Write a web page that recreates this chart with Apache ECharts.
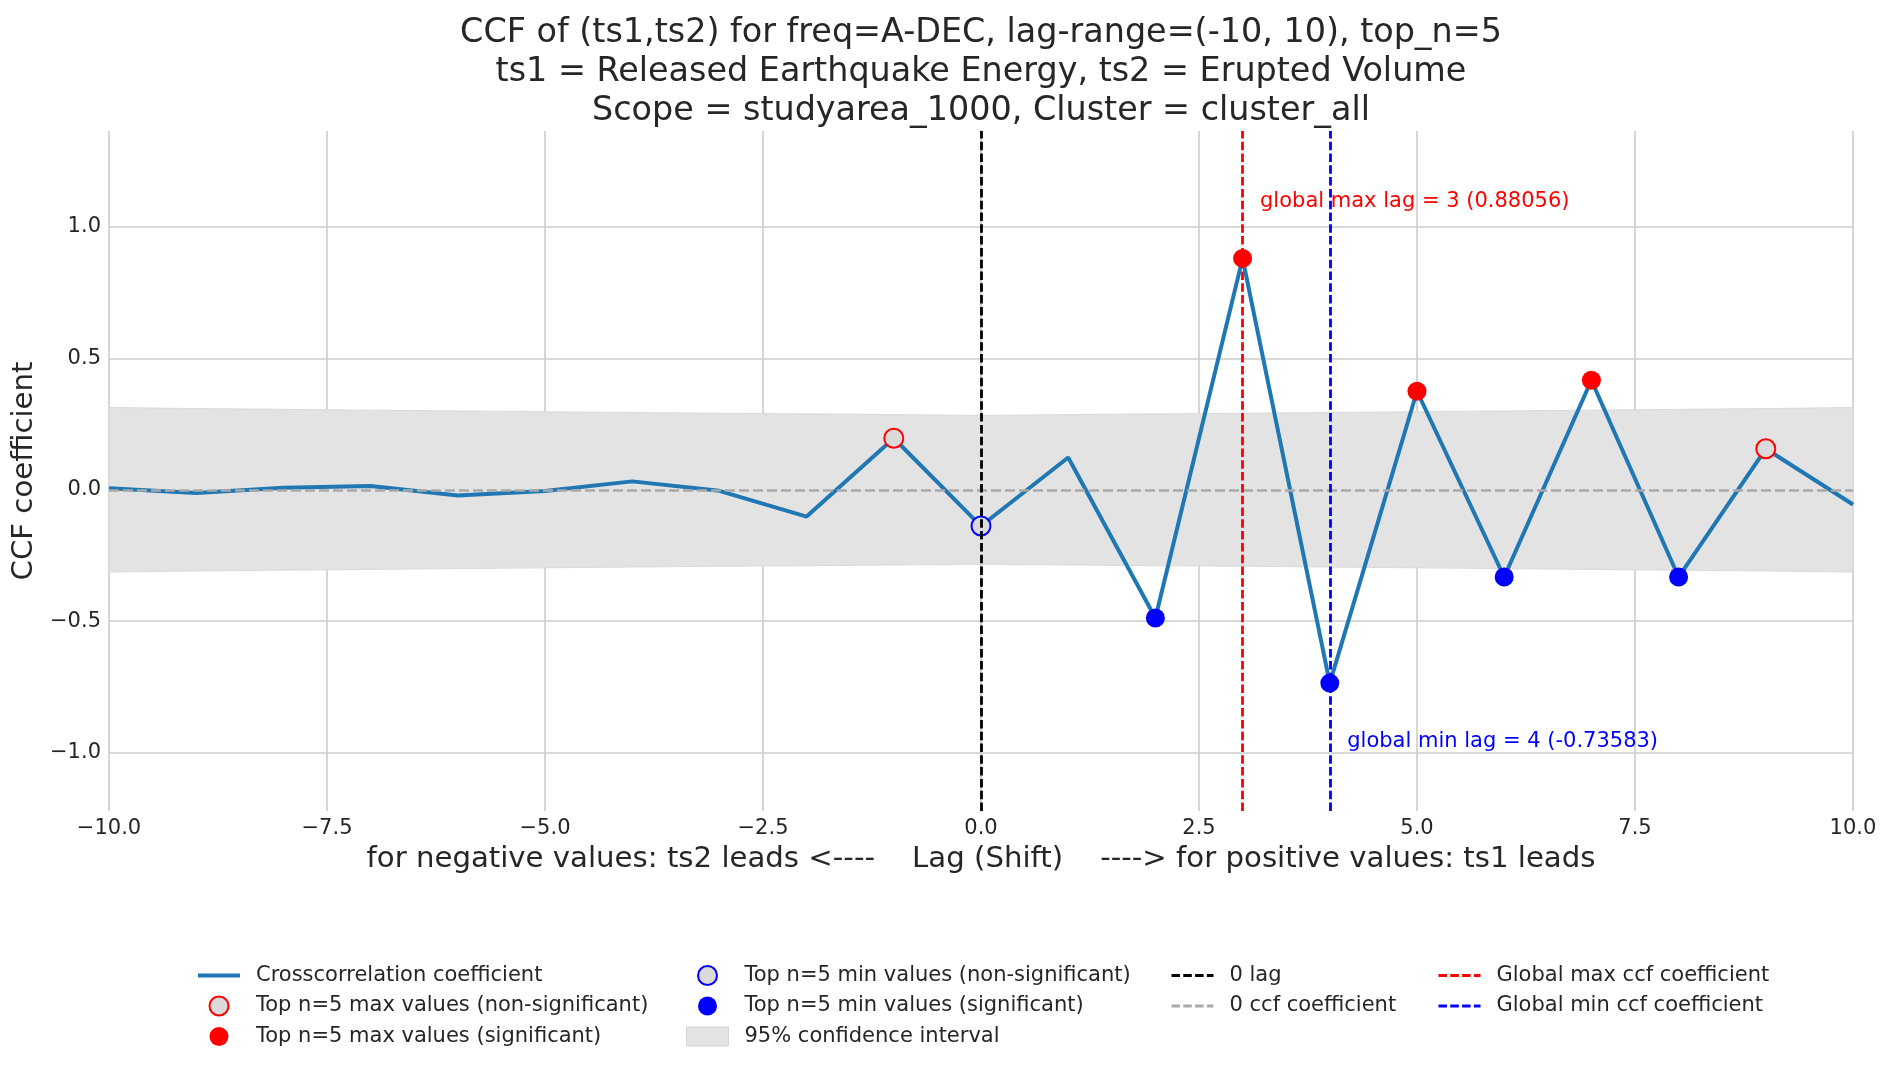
<!DOCTYPE html>
<html>
<head>
<meta charset="utf-8">
<script src="https://cdn.jsdelivr.net/npm/echarts@6/dist/echarts.min.js"></script>
<style>
  html, body { margin: 0; padding: 0; background: #fff; }
  #chart { width: 1891px; height: 1069px; }
</style>
</head>
<body>
<div id="chart"></div>
<script>
// lags and ccf values
const lags = [-10, -9, -8, -7, -6, -5, -4, -3, -2, -1, 0, 1, 2, 3, 4, 5, 6, 7, 8, 9, 10];
const ccf = [0.006, -0.012, 0.008, 0.014, -0.022, -0.005, 0.032, -0.004, -0.102, 0.196,
             -0.138, 0.123, -0.488, 0.88056, -0.73583, 0.375, -0.332, 0.417, -0.332, 0.156, -0.056];
// 95% confidence band
const ciUpper = [0.313, 0.309, 0.306, 0.303, 0.300, 0.297, 0.294, 0.291, 0.289, 0.286, 0.283,
                 0.286, 0.289, 0.291, 0.294, 0.297, 0.300, 0.303, 0.306, 0.309, 0.313];
const ciLower = [-0.313, -0.309, -0.306, -0.303, -0.300, -0.297, -0.294, -0.291, -0.289, -0.286, -0.283,
                 -0.286, -0.289, -0.291, -0.294, -0.297, -0.300, -0.303, -0.306, -0.309, -0.313];

// top n=5 picks
const maxSigLags = [3, 5, 7];
const maxNonSigLags = [-1, 9];
const minSigLags = [2, 4, 6, 8];
const minNonSigLags = [0];

const globalMaxLag = 3, globalMaxVal = 0.88056;
const globalMinLag = 4, globalMinVal = -0.73583;

const titleLines = [
  'CCF of (ts1,ts2) for freq=A-DEC, lag-range=(-10, 10), top_n=5',
  'ts1 = Released Earthquake Energy, ts2 = Erupted Volume',
  'Scope = studyarea_1000, Cluster = cluster_all'
];

const FONT = 'DejaVu Sans';
const TXT = '#262626';

function pts(lagList) {
  return lagList.map(l => [l, ccf[lags.indexOf(l)]]);
}
function fmt(v) {
  return v.toFixed(1).replace('-', '\u2212');
}

let chart = echarts.init(document.getElementById('chart'), null, { renderer: 'canvas' });

const dash = [8.5, 3.3];

function lineItem(name, color, width, type) {
  return { name: name, itemStyle: { opacity: 0 }, lineStyle: { color: color, width: width, type: type } };
}

function legendCol(left, names) {
  return {
    orient: 'vertical',
    left: left,
    top: 965,
    padding: 0,
    itemWidth: 42,
    itemHeight: 19,
    itemGap: 9.5,
    data: names,
    textStyle: { fontFamily: FONT, fontSize: 21, color: TXT, padding: [0, 0, 0, 11] },
    selectedMode: false
  };
}

let option = {
  backgroundColor: '#ffffff',
  animation: false,
  graphic: [{
    type: 'text',
    x: 981,
    y: 13.6,
    style: {
      text: titleLines.join('\n'),
      fontFamily: FONT,
      fontSize: 33.4,
      lineHeight: 39,
      fill: TXT,
      align: 'center',
      verticalAlign: 'top'
    }
  }],
  grid: { left: 109, right: 38, top: 131, bottom: 258, containLabel: false, outerBoundsMode: 'none' },
  legend: [
    legendCol(196, [
      lineItem('Crosscorrelation coefficient', '#1f77b4', 4, 'solid'),
      'Top n=5 max values (non-significant)',
      'Top n=5 max values (significant)'
    ]),
    legendCol(686, [
      'Top n=5 min values (non-significant)',
      'Top n=5 min values (significant)',
      { name: '95% confidence interval', icon: 'rect',
        itemStyle: { color: '#e3e3e3', borderColor: '#d4d4d4', borderWidth: 1 } }
    ]),
    legendCol(1170, [
      lineItem('0 lag', '#000000', 3, dash),
      lineItem('0 ccf coefficient', '#a9a9a9', 3, dash)
    ]),
    legendCol(1437, [
      lineItem('Global max ccf coefficient', '#ff0000', 3, dash),
      lineItem('Global min ccf coefficient', '#0000ff', 3, dash)
    ])
  ],
  xAxis: {
    type: 'value',
    min: -10,
    max: 10,
    interval: 2.5,
    name: 'for negative values: ts2 leads <----    Lag (Shift)    ----> for positive values: ts1 leads',
    nameLocation: 'middle',
    nameGap: 34,
    nameTextStyle: { fontFamily: FONT, fontSize: 29.2, color: TXT },
    axisLine: { show: true, lineStyle: { color: '#cccccc', width: 2 } },
    axisTick: { show: false },
    axisLabel: { fontFamily: FONT, fontSize: 21, color: TXT, margin: 7, formatter: fmt },
    splitLine: { show: true, lineStyle: { color: '#cccccc', width: 1.6 } }
  },
  yAxis: {
    type: 'value',
    min: -1.2225,
    max: 1.3654,
    minInterval: 0.5,
    maxInterval: 0.5,
    name: 'CCF coefficient',
    nameLocation: 'middle',
    nameGap: 62,
    nameTextStyle: { fontFamily: FONT, fontSize: 29.2, color: TXT },
    axisLine: { show: true, lineStyle: { color: '#cccccc', width: 2 } },
    axisTick: { show: false },
    axisLabel: { fontFamily: FONT, fontSize: 21, color: TXT, margin: 8, formatter: fmt,
                 showMinLabel: false, showMaxLabel: false },
    splitLine: { show: true, showMinLine: false, showMaxLine: false,
                 lineStyle: { color: '#cccccc', width: 1.6 } }
  },
  series: [
    {
      name: '95% confidence interval',
      type: 'custom',
      data: lags.map((l, i) => [l, ciUpper[i], ciLower[i]]),
      encode: { x: 0, y: [1, 2] },
      itemStyle: { color: '#e3e3e3' },
      silent: true,
      z: 1,
      renderItem: function (params, api) {
        if (params.dataIndex !== 0) return;
        const top = lags.map((l, i) => api.coord([l, ciUpper[i]]));
        const bot = lags.map((l, i) => api.coord([l, ciLower[i]])).reverse();
        return {
          type: 'polygon',
          shape: { points: top.concat(bot) },
          style: { fill: '#e3e3e3', stroke: '#dadada', lineWidth: 1 }
        };
      }
    },
    {
      name: '0 ccf coefficient',
      type: 'line',
      data: [],
      symbol: 'none',
      lineStyle: { color: '#a9a9a9', width: 2.5, type: [10, 4] },
      itemStyle: { color: '#a9a9a9' },
      markLine: {
        silent: true, symbol: ['none', 'none'], label: { show: false },
        lineStyle: { color: '#a9a9a9', width: 2.5, type: [10, 4] },
        data: [{ yAxis: 0 }]
      },
      z: 2
    },
    {
      name: 'Crosscorrelation coefficient',
      type: 'line',
      data: lags.map((l, i) => [l, ccf[i]]),
      symbol: 'none',
      lineStyle: { color: '#1f77b4', width: 4 },
      itemStyle: { color: '#1f77b4' },
      z: 3
    },
    {
      name: 'Top n=5 max values (non-significant)',
      type: 'scatter',
      data: pts(maxNonSigLags),
      symbol: 'circle',
      symbolSize: 19,
      itemStyle: { color: '#dadada', borderColor: '#ff0000', borderWidth: 2, opacity: 1 },
      z: 4
    },
    {
      name: 'Top n=5 max values (significant)',
      type: 'scatter',
      data: pts(maxSigLags),
      symbol: 'circle',
      symbolSize: 19,
      itemStyle: { color: '#ff0000', opacity: 1 },
      z: 4
    },
    {
      name: 'Top n=5 min values (non-significant)',
      type: 'scatter',
      data: pts(minNonSigLags),
      symbol: 'circle',
      symbolSize: 19,
      itemStyle: { color: '#dadada', borderColor: '#0000ff', borderWidth: 2, opacity: 1 },
      z: 4
    },
    {
      name: 'Top n=5 min values (significant)',
      type: 'scatter',
      data: pts(minSigLags),
      symbol: 'circle',
      symbolSize: 19,
      itemStyle: { color: '#0000ff', opacity: 1 },
      z: 4
    },
    {
      name: '0 lag',
      type: 'line',
      data: [],
      symbol: 'none',
      lineStyle: { color: '#000000', width: 2.8, type: dash },
      itemStyle: { color: '#000000' },
      markLine: {
        silent: true, symbol: ['none', 'none'], label: { show: false },
        lineStyle: { color: '#000000', width: 2.8, type: dash },
        data: [{ xAxis: 0 }]
      },
      z: 5
    },
    {
      name: 'Global max ccf coefficient',
      type: 'line',
      data: [],
      symbol: 'none',
      lineStyle: { color: '#ff0000', width: 2.8, type: dash },
      itemStyle: { color: '#ff0000' },
      markLine: {
        silent: true, symbol: ['none', 'none'], label: { show: false },
        lineStyle: { color: '#ff0000', width: 2.8, type: dash },
        data: [{ xAxis: globalMaxLag }]
      },
      markPoint: {
        silent: true,
        symbol: 'circle',
        symbolSize: 0,
        label: {
          show: true, position: 'right', distance: 0,
          fontFamily: FONT, fontSize: 21, color: '#ff0000',
          formatter: 'global max lag = ' + globalMaxLag + ' (' + globalMaxVal.toFixed(5) + ')'
        },
        data: [{ coord: [globalMaxLag + 0.2, globalMaxVal + 0.217] }]
      },
      z: 5
    },
    {
      name: 'Global min ccf coefficient',
      type: 'line',
      data: [],
      symbol: 'none',
      lineStyle: { color: '#0000ff', width: 2.8, type: dash },
      itemStyle: { color: '#0000ff' },
      markLine: {
        silent: true, symbol: ['none', 'none'], label: { show: false },
        lineStyle: { color: '#0000ff', width: 2.8, type: dash },
        data: [{ xAxis: globalMinLag }]
      },
      markPoint: {
        silent: true,
        symbol: 'circle',
        symbolSize: 0,
        label: {
          show: true, position: 'right', distance: 0,
          fontFamily: FONT, fontSize: 21, color: '#0000ff',
          formatter: 'global min lag = ' + globalMinLag + ' (' + globalMinVal.toFixed(5) + ')'
        },
        data: [{ coord: [globalMinLag + 0.2, globalMinVal - 0.223] }]
      },
      z: 5
    }
  ]
};

chart.setOption(option);

window.addEventListener('resize', chart.resize);
</script>
</body>
</html>
